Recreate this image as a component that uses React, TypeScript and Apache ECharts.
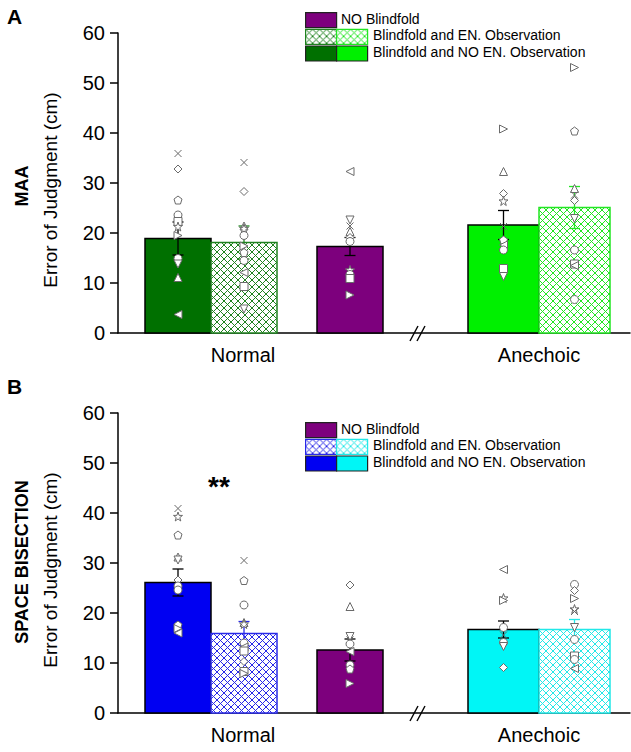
import React, { useEffect, useRef } from "react";
import * as echarts from "echarts";

// ---------------- data ----------------
const GROUP_LABELS = ["Normal", "Anechoic"];
const CONDITIONS = ["NO Blindfold", "Blindfold and EN. Observation", "Blindfold and NO EN. Observation"];
// bar order: Normal NO-EN, Normal EN, NO Blindfold, Anechoic NO-EN, Anechoic EN

// Panel A: MAA
const MAA_MEANS = [18.9, 18.1, 17.3, 21.6, 25.1];
const MAA_SEM = [3.3, 3.3, 1.8, 2.9, 4.2];
const MAA_NORMAL_NOEN = [35.9, 32.8, 26.6, 23.6, 22.3, 21.3, 19.5, 14.9, 13.8, 11.1, 3.7];
const MAA_NORMAL_EN = [34.1, 28.3, 21.4, 20.9, 19.5, 17.4, 16.1, 14.5, 12.1, 9.3, 4.8];
const MAA_NOBLIND = [32.3, 22.6, 21.4, 20.3, 19.1, 18.3, 12.6, 11.7, 10.9, 7.6];
const MAA_ANE_NOEN = [40.8, 32.3, 27.9, 26.4, 21.3, 18.6, 17.6, 16.6, 12.9, 11.3];
const MAA_ANE_EN = [53.1, 40.4, 28.9, 27.6, 26.5, 22.9, 16.6, 13.8, 13.5, 6.7];

// Panel B: SPACE BISECTION
const SB_MEANS = [26.1, 15.9, 12.6, 16.7, 16.7];
const SB_SEM = [2.7, 2.4, 2.2, 1.7, 2.0];
const SB_NORMAL_NOEN = [40.9, 39.3, 35.6, 31.2, 30.6, 26.6, 25.4, 24.6, 17.6, 16.9, 16.0];
const SB_NORMAL_EN = [30.5, 26.5, 21.6, 18.1, 17.8, 14.0, 13.2, 12.4, 10.3, 8.3, 7.9];
const SB_NOBLIND = [25.6, 21.3, 15.3, 14.6, 13.8, 12.3, 9.6, 8.8, 5.9];
const SB_ANE_NOEN = [28.7, 23.0, 22.5, 17.1, 15.6, 14.1, 13.3, 9.1];
const SB_ANE_EN = [25.7, 24.5, 22.9, 20.8, 20.3, 17.1, 14.7, 11.4, 10.7, 8.9];

// ---------------- marker shapes (style) ----------------
const MAA_SYMS = [
  ["cross", "diamond", "pentagon", "circle", "square", "star", "triR", "circle", "triD", "triU", "triL"],
  ["cross", "diamond", "triU", "star", "circle", "triR", "pentagon", "circle", "triL", "square", "triD"],
  ["triL", "triD", "cross", "triU", "diamond", "circle", "star", "circle", "square", "triR"],
  ["triR", "triU", "diamond", "star", "cross", "pentagon", "triL", "circle", "square", "triD"],
  ["triR", "pentagon", "triU", "cross", "diamond", "triD", "circle", "square", "triL", "circle"],
];
const SB_SYMS = [
  ["cross", "star", "pentagon", "triU", "triD", "diamond", "circle", "circle", "pentagon", "triR", "triL"],
  ["cross", "pentagon", "circle", "triU", "star", "circle", "triL", "square", "diamond", "square", "triR"],
  ["diamond", "triU", "triD", "cross", "circle", "triL", "circle", "pentagon", "triR"],
  ["triL", "star", "triR", "circle", "cross", "circle", "triD", "diamond"],
  ["circle", "diamond", "triR", "star", "cross", "triD", "circle", "square", "circle", "triL"],
];

const SYMBOL_PATHS: Record<string, string> = {
  cross: "path://M0,0L10,10M10,0L0,10",
  diamond: "diamond",
  pentagon: "path://M5,0L9.76,3.45L7.94,9.05L2.06,9.05L0.24,3.45Z",
  circle: "circle",
  square: "rect",
  star: "path://M5,0L6.18,3.38L9.76,3.45L6.9,5.62L7.94,9.05L5,7L2.06,9.05L3.1,5.62L0.24,3.45L3.82,3.38Z",
  triU: "triangle",
  triD: "path://M0,0L10,0L5,9Z",
  triL: "path://M9,0L9,10L0,5Z",
  triR: "path://M0,0L0,10L9,5Z",
};

// ---------------- layout ----------------
const FONT = "'Liberation Sans', Arial, Helvetica, sans-serif";
const BAR_X = [60, 126, 232, 385.5, 456.5];
const BAR_W = [66, 66, 66, 71, 71];
const LABEL_X = [125, 421];
const GRID_TOPS = [33, 413];

const DKGREEN = "#007000";
const LTGREEN = "#00f000";
const PURPLE = "#7d007d";
const BLUE = "#0000f2";
const CYAN = "#00f6f6";
const HATCH_DKGREEN = "#1f821f";
const HATCH_LTGREEN = "#22e622";
const HATCH_BLUE = "#2828e8";
const HATCH_CYAN = "#22e8e8";

function hatch(color: string) {
  const n = 7;
  const c = document.createElement("canvas");
  c.width = n;
  c.height = n;
  const ctx = c.getContext("2d")!;
  ctx.fillStyle = "#ffffff";
  ctx.fillRect(0, 0, n, n);
  ctx.fillStyle = color;
  for (let x = 0; x < n; x++) {
    for (let y = 0; y < n; y++) {
      if (x === y || x + y === n - 1) ctx.fillRect(x, y, 1, 1);
    }
  }
  return { image: c.toDataURL(), repeat: "repeat", imageWidth: n, imageHeight: n };
}

export default function App() {
  const ref = useRef<HTMLDivElement>(null);

  useEffect(() => {
    if (!ref.current) return;
    const chart = echarts.init(ref.current, null, { renderer: "svg" });

    const pDk = hatch(HATCH_DKGREEN);
    const pLt = hatch(HATCH_LTGREEN);
    const pBl = hatch(HATCH_BLUE);
    const pCy = hatch(HATCH_CYAN);

    const panelStyles = [
      {
        bars: [
          { fill: DKGREEN, stroke: "#000" },
          { fill: pDk, stroke: HATCH_DKGREEN },
          { fill: PURPLE, stroke: "#000" },
          { fill: LTGREEN, stroke: "#000" },
          { fill: pLt, stroke: HATCH_LTGREEN },
        ],
        err: ["#000", HATCH_DKGREEN, "#000", "#000", HATCH_LTGREEN],
      },
      {
        bars: [
          { fill: BLUE, stroke: "#000" },
          { fill: pBl, stroke: HATCH_BLUE },
          { fill: PURPLE, stroke: "#000" },
          { fill: CYAN, stroke: "#000" },
          { fill: pCy, stroke: HATCH_CYAN },
        ],
        err: ["#000", HATCH_BLUE, "#000", "#000", HATCH_CYAN],
      },
    ];

    const panels = [
      {
        means: MAA_MEANS,
        sem: MAA_SEM,
        pts: [MAA_NORMAL_NOEN, MAA_NORMAL_EN, MAA_NOBLIND, MAA_ANE_NOEN, MAA_ANE_EN],
        syms: MAA_SYMS,
      },
      {
        means: SB_MEANS,
        sem: SB_SEM,
        pts: [SB_NORMAL_NOEN, SB_NORMAL_EN, SB_NOBLIND, SB_ANE_NOEN, SB_ANE_EN],
        syms: SB_SYMS,
      },
    ];

    const grids = GRID_TOPS.map((t) => ({ left: 118, right: 1, top: t, height: 300 }));

    const xAxes = [0, 1].map((g) => ({
      gridIndex: g,
      type: "value",
      min: 0,
      max: 512,
      splitLine: { show: false },
      axisTick: { show: false },
      axisLine: { show: true, onZero: false, lineStyle: { color: "#000", width: 1.5 } },
      axisLabel: {
        customValues: LABEL_X,
        formatter: (v: number) => GROUP_LABELS[Math.abs(v - LABEL_X[0]) < 1 ? 0 : 1],
        fontSize: 20,
        color: "#000",
        margin: 12,
        fontFamily: FONT,
      },
    }));

    const yAxes = [0, 1].map((g) => ({
      gridIndex: g,
      type: "value",
      min: 0,
      max: 60,
      interval: 10,
      name: "Error of Judgment (cm)",
      nameLocation: "middle",
      nameGap: 58,
      nameTextStyle: { fontSize: 19, color: "#000", fontFamily: FONT, padding: [0, 14, 0, 0] },
      splitLine: { show: false },
      axisLine: { show: true, lineStyle: { color: "#000", width: 1.5 } },
      axisTick: { show: true, length: 8, lineStyle: { color: "#000", width: 1.5 } },
      axisLabel: { fontSize: 20, color: "#000", margin: 13, fontFamily: FONT },
    }));

    const series: any[] = [];
    panels.forEach((p, g) => {
      const st = panelStyles[g];
      series.push({
        type: "custom",
        xAxisIndex: g,
        yAxisIndex: g,
        z: 2,
        data: p.means.map((m, i) => [BAR_X[i], m, i]),
        renderItem: (params: any, api: any) => {
          const i = api.value(2);
          const x = api.value(0);
          const v = api.value(1);
          const w = BAR_W[i];
          const p1 = api.coord([x - w / 2, v]);
          const p2 = api.coord([x + w / 2, 0]);
          return {
            type: "rect",
            shape: { x: p1[0], y: p1[1], width: p2[0] - p1[0], height: p2[1] - p1[1] },
            style: { fill: st.bars[i].fill, stroke: st.bars[i].stroke, lineWidth: 1.5 },
          };
        },
      });
      series.push({
        type: "custom",
        xAxisIndex: g,
        yAxisIndex: g,
        z: 3,
        data: p.means.map((m, i) => [BAR_X[i], m, p.sem[i], i]),
        renderItem: (params: any, api: any) => {
          const x = api.value(0);
          const m = api.value(1);
          const s = api.value(2);
          const i = api.value(3);
          const top = api.coord([x, m + s]);
          const bot = api.coord([x, m - s]);
          const cw = 5.5;
          const stroke = st.err[i];
          const ls = { stroke, lineWidth: 1.3 };
          return {
            type: "group",
            children: [
              { type: "line", shape: { x1: top[0], y1: top[1], x2: bot[0], y2: bot[1] }, style: ls },
              { type: "line", shape: { x1: top[0] - cw, y1: top[1], x2: top[0] + cw, y2: top[1] }, style: ls },
              { type: "line", shape: { x1: bot[0] - cw, y1: bot[1], x2: bot[0] + cw, y2: bot[1] }, style: ls },
            ],
          };
        },
      });
      const data: any[] = [];
      p.pts.forEach((arr, gi) => {
        arr.forEach((v, k) => {
          const sym = p.syms[gi][k] || "circle";
          data.push({
            value: [BAR_X[gi], v],
            symbol: SYMBOL_PATHS[sym],
            symbolSize: sym === "star" ? 9 : sym === "cross" ? 7 : 8,
          });
        });
      });
      series.push({
        type: "scatter",
        xAxisIndex: g,
        yAxisIndex: g,
        z: 4,
        data,
        itemStyle: { color: "#ffffff", borderColor: "#6a6a6a", borderWidth: 1, opacity: 1 },
      });
    });

    // legends & annotations
    const legend = (top: number, solid: [string, string], hatched: [any, any], hatchStroke: [string, string]) => {
      const rowH = 15;
      const rows = [top, top + 16.7, top + 33.4];
      return [
        { type: "rect", left: 305, top: rows[0], shape: { width: 31, height: rowH }, style: { fill: PURPLE, stroke: "#222", lineWidth: 1.2 } },
        { type: "text", left: 341, top: rows[0] - 0.5, style: { text: CONDITIONS[0], fontSize: 14, fill: "#000", fontFamily: FONT } },
        { type: "rect", left: 305, top: rows[1], shape: { width: 31, height: rowH }, style: { fill: hatched[0], stroke: hatchStroke[0], lineWidth: 1.2 } },
        { type: "rect", left: 336, top: rows[1], shape: { width: 31, height: rowH }, style: { fill: hatched[1], stroke: hatchStroke[1], lineWidth: 1.2 } },
        { type: "text", left: 373, top: rows[1] - 0.5, style: { text: CONDITIONS[1], fontSize: 14, fill: "#000", fontFamily: FONT } },
        { type: "rect", left: 305, top: rows[2], shape: { width: 31, height: rowH }, style: { fill: solid[0], stroke: "#222", lineWidth: 1.2 } },
        { type: "rect", left: 336, top: rows[2], shape: { width: 31, height: rowH }, style: { fill: solid[1], stroke: "#222", lineWidth: 1.2 } },
        { type: "text", left: 373, top: rows[2] - 0.5, style: { text: CONDITIONS[2], fontSize: 14, fill: "#000", fontFamily: FONT } },
      ];
    };

    const breakMarks = (y0: number) => [
      { type: "line", shape: { x1: 410, y1: y0 + 8, x2: 418, y2: y0 - 7 }, style: { stroke: "#000", lineWidth: 1.4 } },
      { type: "line", shape: { x1: 417, y1: y0 + 8, x2: 425, y2: y0 - 7 }, style: { stroke: "#000", lineWidth: 1.4 } },
    ];

    const graphic: any[] = [
      { type: "text", left: 7, top: 6, style: { text: "A", fontSize: 21, fontWeight: "bold", fill: "#000", fontFamily: FONT } },
      { type: "text", left: 7, top: 376, style: { text: "B", fontSize: 21, fontWeight: "bold", fill: "#000", fontFamily: FONT } },
      {
        type: "text",
        x: 22,
        y: 186,
        rotation: Math.PI / 2,
        style: { text: "MAA", fontSize: 18, fontWeight: "bold", fill: "#000", fontFamily: FONT, align: "center", verticalAlign: "middle" },
      },
      {
        type: "text",
        x: 22,
        y: 562,
        rotation: Math.PI / 2,
        style: { text: "SPACE BISECTION", fontSize: 18, fontWeight: "bold", fill: "#000", fontFamily: FONT, align: "center", verticalAlign: "middle" },
      },
      {
        type: "text",
        x: 219,
        y: 486,
        style: { text: "**", fontSize: 28, fontWeight: "bold", fill: "#000", fontFamily: FONT, align: "center", verticalAlign: "middle" },
      },
      ...legend(12, [DKGREEN, LTGREEN], [pDk, pLt], [HATCH_DKGREEN, HATCH_LTGREEN]),
      ...legend(422, [BLUE, CYAN], [pBl, pCy], [HATCH_BLUE, HATCH_CYAN]),
      ...breakMarks(333),
      ...breakMarks(713),
    ];

    chart.setOption({
      animation: false,
      backgroundColor: "#ffffff",
      grid: grids,
      xAxis: xAxes,
      yAxis: yAxes,
      series,
      graphic,
    });

    return () => chart.dispose();
  }, []);

  return <div ref={ref} style={{ position: "fixed", left: 0, top: 0, width: 631, height: 752 }} />;
}
